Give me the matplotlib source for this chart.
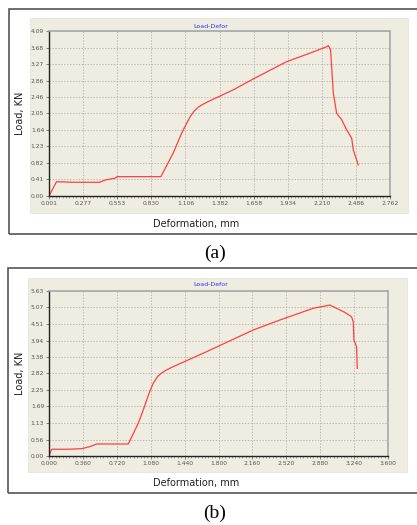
import numpy as np
import matplotlib
matplotlib.use("Agg")
import matplotlib.pyplot as plt
from matplotlib.patches import Rectangle

# panel (a)
xa = [0.001, 0.062, 0.20, 0.41, 0.46, 0.535, 0.553, 0.907, 1.006, 1.074, 1.115, 1.145,
      1.175, 1.209, 1.245, 1.290, 1.492, 1.654, 1.925, 2.087, 2.249, 2.262, 2.281,
      2.303, 2.330, 2.371, 2.411, 2.452, 2.465, 2.505]
ya = [0.0, 0.355, 0.34, 0.34, 0.40, 0.44, 0.48, 0.48, 1.06, 1.55, 1.80, 1.97,
      2.10, 2.20, 2.27, 2.34, 2.63, 2.90, 3.33, 3.51, 3.70, 3.73, 3.62,
      2.55, 2.05, 1.89, 1.64, 1.43, 1.14, 0.77]
xticks_a = [0.001, 0.277, 0.553, 0.830, 1.106, 1.382, 1.658, 1.934, 2.210, 2.486, 2.762]
yticks_a = [0.00, 0.41, 0.82, 1.23, 1.64, 2.05, 2.46, 2.86, 3.27, 3.68, 4.09]

# panel (b)
xb = [0.0, 0.028, 0.20, 0.347, 0.435, 0.506, 0.842, 0.948, 1.001, 1.037, 1.070,
      1.107, 1.150, 1.190, 1.250, 1.320, 1.674, 2.169, 2.452, 2.806, 2.983,
      3.142, 3.213, 3.231, 3.238, 3.266, 3.274]
yb = [0.0, 0.23, 0.23, 0.25, 0.32, 0.41, 0.41, 1.12, 1.57, 1.91, 2.20,
      2.48, 2.70, 2.82, 2.94, 3.05, 3.56, 4.30, 4.64, 5.04, 5.15,
      4.90, 4.75, 4.58, 3.96, 3.73, 2.99]
xticks_b = [0.000, 0.360, 0.720, 1.080, 1.440, 1.800, 2.160, 2.520, 2.880, 3.240, 3.600]
yticks_b = [0.00, 0.56, 1.13, 1.69, 2.25, 2.82, 3.38, 3.94, 4.51, 5.07, 5.63]

W, H = 417, 525
fig = plt.figure(figsize=(W / 100, H / 100), dpi=100)


def frac(x0, y0, x1, y1):
    # pixel box (top-left origin) -> figure fraction
    return [x0 / W, (H - y1) / H, (x1 - x0) / W, (y1 - y0) / H]


def panel(outer, beige, axbox, x, y, xt, yt, title_y, xlab_y, cap_y, cap):
    l, b, w, h = frac(*outer)
    fig.patches.append(Rectangle((l, b), w, h, transform=fig.transFigure,
                                 fill=False, ec="#555555", lw=1.2, zorder=-2))
    l, b, w, h = frac(*beige)
    fig.patches.append(Rectangle((l, b), w, h, transform=fig.transFigure,
                                 fc="#efede1", ec="#e4e2d6", lw=0.5, zorder=-1))
    ax = fig.add_axes(frac(*axbox))
    ax.set_facecolor("#efede1")
    ax.plot(x, y, color="#ff4040", lw=0.9)
    ax.set_xlim(xt[0], xt[-1])
    ax.set_ylim(yt[0], yt[-1])
    ax.set_xticks(xt)
    ax.set_yticks(yt)
    ax.set_xticklabels(["%.3f" % v for v in xt])
    ax.set_yticklabels(["%.2f" % v for v in yt])
    ax.set_xticks(np.linspace(xt[0], xt[-1], 101), minor=True)
    ax.tick_params(labelsize=4.3, colors="#555555", length=2, width=0.5, pad=1.5)
    ax.tick_params(axis="x", which="minor", length=1.2, width=0.4, color="#666666")
    ax.grid(True, color="#bdbbb2", ls=(0, (1.5, 1.5)), lw=0.7)
    for s in ["top", "right"]:
        ax.spines[s].set_color("#a8a8a8")
        ax.spines[s].set_linestyle((0, (1.5, 1.0)))
        ax.spines[s].set_linewidth(1.2)
    for s in ["left", "bottom"]:
        ax.spines[s].set_color("#222222")
        ax.spines[s].set_linewidth(1.0)
    fig.text(211 / W, 1 - title_y / H, "Load-Defor", color="#3333ee",
             fontsize=4.5, ha="center", va="center")
    fig.text(20 / W, 1 - ((axbox[1] + axbox[3]) / 2) / H, "Load, KN",
             rotation=90, fontsize=7, ha="center", va="center", color="#222222")
    fig.text(196 / W, 1 - xlab_y / H, "Deformation, mm", fontsize=7,
             ha="center", va="center", color="#222222")
    fig.text(215 / W, 1 - cap_y / H, cap, fontsize=14, family="Liberation Serif",
             ha="center", va="center")
    return ax


panel((9, 9, 430, 234), (30, 18, 408, 213), (49, 31, 390, 196),
      xa, ya, xticks_a, yticks_a, 26, 224, 253, "(a)")
panel((8, 268, 430, 493), (28, 278, 407, 472), (49, 291, 388, 456),
      xb, yb, xticks_b, yticks_b, 285, 483, 513, "(b)")

fig.savefig("out.png", dpi=100)
